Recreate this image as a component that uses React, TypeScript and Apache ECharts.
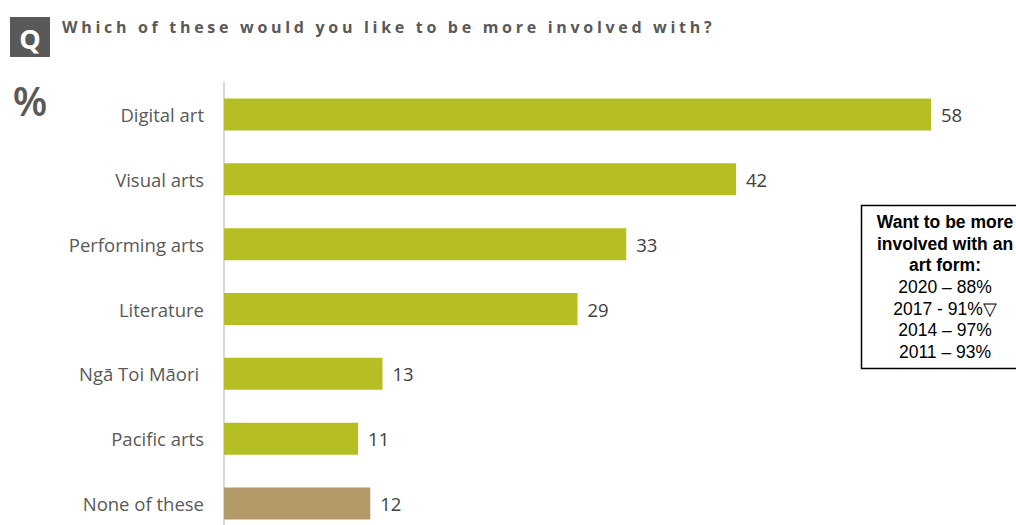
import React, { useEffect, useRef } from "react";
import * as echarts from "echarts";

const categories = ["Digital art", "Visual arts", "Performing arts", "Literature", "Ngā Toi Māori ", "Pacific arts", "None of these"];
const values = [58, 42, 33, 29, 13, 11, 12];
const barColors = ["#b5be22", "#b5be22", "#b5be22", "#b5be22", "#b5be22", "#b5be22", "#b39a68"];
const titleText = "Which of these would you like to be more involved with?";
const boxBold = ["Want to be more", "involved with an", "art form:"];
const boxLines = ["2020 – 88%", "2017 - 91%▽", "2014 – 97%", "2011 – 93%"];

export default function App() {
  const ref = useRef<HTMLDivElement>(null);
  useEffect(() => {
    const chart = echarts.init(ref.current!, undefined, { renderer: "svg" });
    const boxTexts: any[] = [];
    boxBold.forEach((t, i) => {
      boxTexts.push({
        type: "text",
        x: 945,
        y: 222 + i * 21.5,
        style: { text: t, fill: "#000", font: "bold 17.5px 'Liberation Sans', Arial, sans-serif", align: "center", verticalAlign: "middle" },
      });
    });
    boxLines.forEach((t, i) => {
      boxTexts.push({
        type: "text",
        x: 945,
        y: 287 + i * 21.5,
        style: { text: t, fill: "#000", font: "17.5px 'Liberation Sans', Arial, sans-serif", align: "center", verticalAlign: "middle" },
      });
    });
    chart.setOption({
      animation: false,
      grid: { left: 224, top: 82, width: 60 * 12.19, height: 454, containLabel: false },
      xAxis: { type: "value", min: 0, max: 60, show: false },
      yAxis: {
        type: "category",
        data: categories,
        inverse: true,
        axisLine: { show: true, lineStyle: { color: "#d9d9d9", width: 2 } },
        axisTick: { show: false },
        axisLabel: { color: "#595959", fontSize: 18.5, fontFamily: "'Open Sans', sans-serif", margin: 20 },
      },
      series: [
        {
          type: "bar",
          barWidth: 32,
          data: values.map((v, i) => ({ value: v, itemStyle: { color: barColors[i] } })),
          label: { show: true, position: "right", distance: 10, color: "#404040", fontSize: 18.5, fontFamily: "'Open Sans', sans-serif" },
        },
      ],
      graphic: [
        { type: "rect", shape: { x: 10, y: 17, width: 40, height: 40 }, style: { fill: "#595959" } },
        { type: "text", x: 30, y: 38, style: { text: "Q", fill: "#fff", font: "bold 27px 'Open Sans', sans-serif", align: "center", verticalAlign: "middle" } },
        { type: "text", x: 30, y: 100, style: { text: "%", fill: "#595959", font: "600 40px 'Open Sans', sans-serif", align: "center", verticalAlign: "middle" } },
        { type: "rect", shape: { x: 861.5, y: 205.5, width: 170, height: 163 }, style: { fill: "#fff", stroke: "#000", lineWidth: 1.5 } },
        ...boxTexts,
      ],
    });
    return () => chart.dispose();
  }, []);
  return (
    <div style={{ position: "absolute", left: 0, top: 0, width: 1016, height: 525, overflow: "hidden", background: "#fff" }}>
      <div ref={ref} style={{ position: "absolute", left: 0, top: 0, width: 1016, height: 540 }} />
      <div
        style={{
          position: "absolute",
          left: 62,
          top: 16,
          font: "bold 16px 'Open Sans', sans-serif",
          letterSpacing: "3.7px",
          color: "#595959",
          whiteSpace: "nowrap",
        }}
      >
        {titleText}
      </div>
    </div>
  );
}
